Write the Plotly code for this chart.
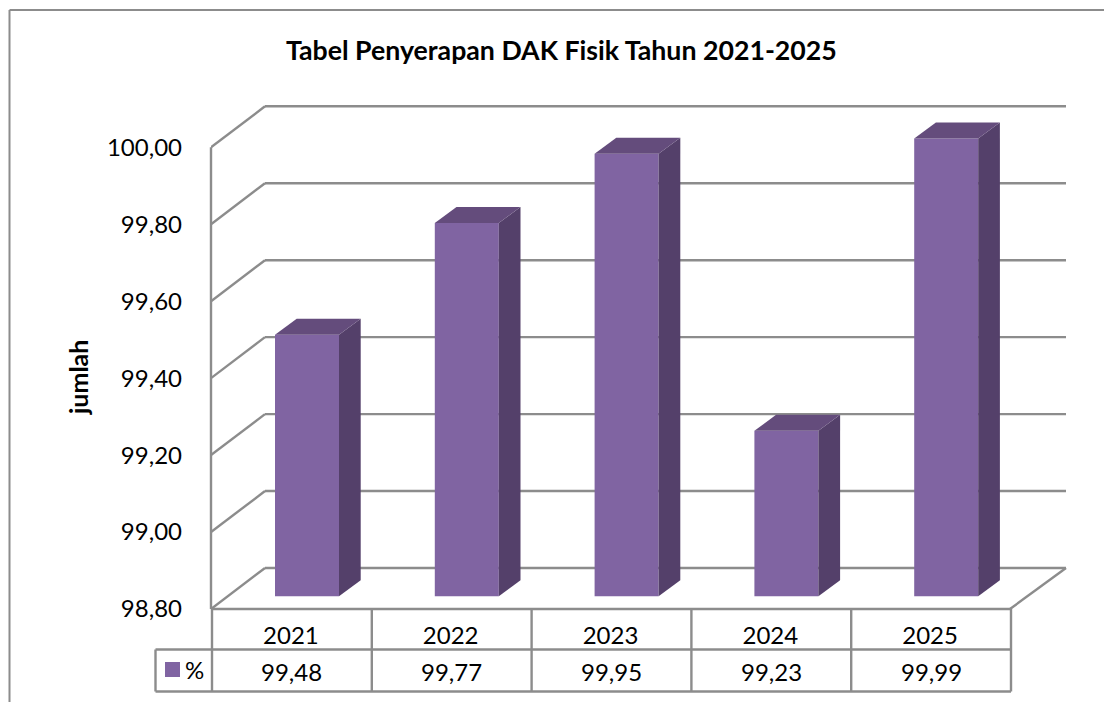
"""
Tabel Penyerapan DAK Fisik - 3D style column chart with data table
"""
import plotly.graph_objects as go

years = ["2021", "2022", "2023", "2024", "2025"]
values = [99.48, 99.77, 99.95, 99.23, 99.99]
y_ticks = [98.8, 99.0, 99.2, 99.4, 99.6, 99.8, 100.0]

W, H = 1104, 702
FONT = "Lato, Carlito, sans-serif"
GRID = "#8c8c8c"
FRONT, TOP, SIDE = "#8064a2", "#644c7c", "#54406a"

# pixel geometry of the plot box
X0, X1 = 211, 1067
Y0, Y1 = 609, 104
CAT_PX = 159.8
VAL_PX = 384.75
Y_MIN = 98.8


def dx(px):
    return px / CAT_PX


def dy(px):
    return px / VAL_PX


def px(x):
    return x / W


def py(y):
    return 1 - y / H


WALL_X, WALL_Y = dx(54), dy(41)
WALL_END = 5 + dx(56)
BAR_X, BAR_Y = dx(21.7), dy(16)
BAR_W = dx(64)
BAR_OFF = dx(64)
BAR_BASE = Y_MIN + dy(12.7)
N = len(years)

fig = go.Figure()
shapes = []


def add_data_line(x0, y0, x1, y1):
    # gridlines sit under the bars, traces would draw on top of them
    shapes.append(dict(type="line", xref="x", yref="y", layer="below",
                       x0=x0, y0=y0, x1=x1, y1=y1,
                       line=dict(color=GRID, width=2.4)))


# back wall + side wall gridlines
for t in y_ticks:
    add_data_line(0, t, WALL_X, t + WALL_Y)
    add_data_line(WALL_X, t + WALL_Y, WALL_END, t + WALL_Y)
add_data_line(N, Y_MIN, WALL_END, Y_MIN + WALL_Y)

# side and top faces of the columns
for i, v in enumerate(values):
    left = i + BAR_OFF
    right = left + BAR_W
    top = v + dy(12.7)
    fig.add_trace(go.Scatter(
        x=[right, right + BAR_X, right + BAR_X, right, right],
        y=[BAR_BASE, BAR_BASE + BAR_Y, top + BAR_Y, top, BAR_BASE],
        mode="lines", fill="toself", fillcolor=SIDE, line=dict(width=0),
        hoverinfo="skip", cliponaxis=False, showlegend=False))
    fig.add_trace(go.Scatter(
        x=[left, right, right + BAR_X, left + BAR_X, left],
        y=[top, top, top + BAR_Y, top + BAR_Y, top],
        mode="lines", fill="toself", fillcolor=TOP, line=dict(width=0),
        hoverinfo="skip", cliponaxis=False, showlegend=False))

# front faces
fig.add_trace(go.Bar(
    x=[i + BAR_OFF + BAR_W / 2 for i in range(N)],
    y=[v - Y_MIN for v in values],
    base=BAR_BASE,
    width=BAR_W,
    marker=dict(color=FRONT, line=dict(width=0)),
    cliponaxis=False,
    showlegend=False,
    hovertemplate="%{customdata}: %{text}<extra></extra>",
    customdata=years,
    text=[f"{v:.2f}".replace(".", ",") for v in values],
    textposition="none",
))

# data table lines
ROW0, ROW1, ROW2 = 609, 649.5, 691.5
LEG_L = 155.5


def add_line(x0, y0, x1, y1, color=GRID, width=2.4):
    shapes.append(dict(type="line", xref="paper", yref="paper",
                       x0=px(x0), y0=py(y0), x1=px(x1), y1=py(y1),
                       line=dict(color=color, width=width)))


col_x = [X0 + 1 + CAT_PX * i for i in range(N + 1)]
for x in col_x:
    add_line(x, ROW0, x, ROW2)
add_line(X0, ROW0, col_x[-1], ROW0)
add_line(LEG_L, ROW1, col_x[-1], ROW1)
add_line(LEG_L, ROW2, col_x[-1], ROW2)
add_line(LEG_L, ROW1, LEG_L, ROW2)

# chart frame
add_line(9.5, 10, 9.5, H, width=2)
add_line(9.5, 10, W, 10, width=2)

# y axis line only runs up to the 100,00 tick
add_line(X0, Y0, X0, Y0 - (y_ticks[-1] - Y_MIN) * VAL_PX)

# legend swatch
shapes.append(dict(type="rect", xref="paper", yref="paper", x0=px(165), x1=px(180),
                   y0=py(677), y1=py(662), fillcolor=FRONT, line=dict(width=0)))

annotations = [
    dict(text="<b>Tabel Penyerapan DAK Fisik Tahun 2021-2025</b>", x=px(561.5), y=py(50),
         font=dict(size=26.7)),
    dict(text="<b>jumlah</b>", x=px(78), y=py(378), textangle=-90, font=dict(size=25)),
    dict(text="%", x=px(194), y=py(669), font=dict(size=24)),
]
for i, v in enumerate(values):
    annotations.append(dict(text=f"{v:.2f}".replace(".", ","),
                            x=px(col_x[i] + CAT_PX / 2), y=py(671), font=dict(size=24)))
for a in annotations:
    a.update(xref="paper", yref="paper", showarrow=False, xanchor="center", yanchor="middle")

fig.update_layout(
    width=W, height=H,
    paper_bgcolor="white", plot_bgcolor="rgba(0,0,0,0)",
    font=dict(family=FONT, size=24, color="#000000"),
    margin=dict(l=0, r=0, t=0, b=0),
    separators=",.",
    barmode="overlay",
    showlegend=False,
    shapes=shapes,
    annotations=annotations,
    xaxis=dict(
        domain=[px(X0), px(X1)],
        range=[0, (X1 - X0) / CAT_PX],
        tickvals=[i + 0.5 for i in range(N)],
        ticktext=years,
        ticks="",
        ticklabelstandoff=10,
        showgrid=False, zeroline=False,
        showline=False,
        automargin=False,
    ),
    yaxis=dict(
        domain=[py(Y0), py(Y1)],
        range=[Y_MIN, Y_MIN + (Y0 - Y1) / VAL_PX],
        tickvals=y_ticks,
        tickformat=".2f",
        ticks="",
        ticklabelstandoff=28,
        showgrid=False, zeroline=False,
        showline=False,
        automargin=False,
    ),
)

fig.write_html("out.html", config={"displayModeBar": False},
               post_script="document.body.style.margin='0';")
